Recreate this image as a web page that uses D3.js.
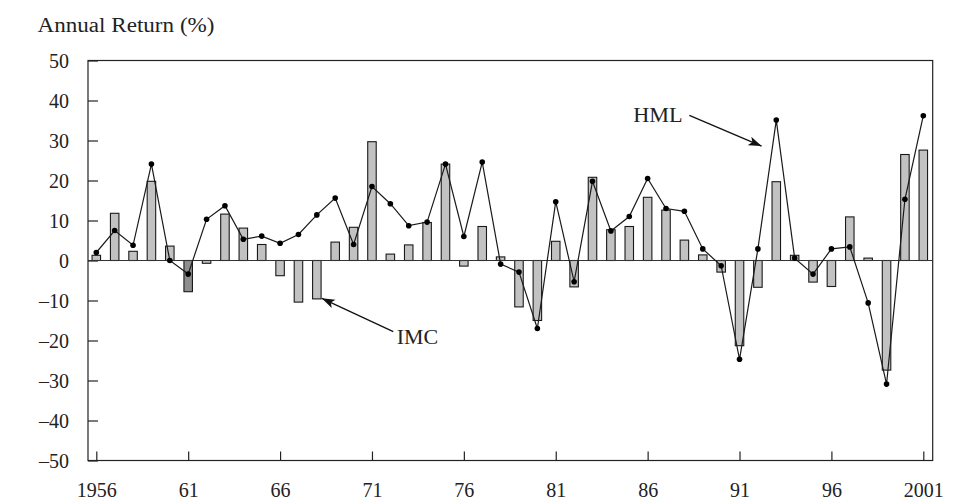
<!DOCTYPE html>
<html>
<head>
<meta charset="utf-8">
<script src="https://cdn.jsdelivr.net/npm/d3@7"></script>
<style>
	body { margin: 0; background: #fff; }
	svg text { font-family: "Liberation Serif", "DejaVu Serif", serif; fill: #222; }
</style>
</head>
<body>
<svg id="chart" width="954" height="502"></svg>
<script>
// Years on the x axis
var years = d3.range(1956, 2002);
// IMC annual return, bars (%)
var imc = [1.3, 11.8, 2.3, 19.8, 3.6, -7.8, -0.7, 11.6, 8.1, 4.0,
	-3.8, -10.4, -9.6, 4.6, 8.3, 29.7, 1.6, 3.9, 9.5, 24.1,
	-1.4, 8.5, 0.9, -11.6, -15.0, 4.8, -6.6, 20.8, 7.7, 8.5,
	15.8, 12.6, 5.1, 1.4, -2.9, -21.3, -6.7, 19.7, 1.3, -5.4,
	-6.5, 10.9, 0.6, -27.4, 26.5, 27.6];
// HML annual return, line (%)
var hml = [2.0, 7.5, 3.8, 24.1, 0.0, -3.4, 10.3, 13.7, 5.3, 6.1,
	4.3, 6.5, 11.4, 15.6, 4.0, 18.5, 14.2, 8.7, 9.6, 24.1,
	6.0, 24.6, -0.9, -2.9, -17.0, 14.7, -5.3, 19.8, 7.4, 11.0,
	20.5, 13.0, 12.3, 2.9, -1.3, -24.7, 2.9, 35.1, 0.6, -3.4,
	2.9, 3.4, -10.6, -30.9, 15.3, 36.2];
// Axis ticks
var yTicks = d3.range(-50, 51, 10);
var xTicks = d3.range(1956, 2002, 5);
var xTickLabels = ["1956", "61", "66", "71", "76", "81", "86", "91", "96", "2001"];

function draw() {
	const svg = d3.select("#chart");
	const left = 88, right = 932.7, top = 60.5, bottom = 460.5;

	const x = d3.scaleLinear().domain([1956, 2001]).range([96.3, 923.3]);
	const y = d3.scaleLinear().domain([-50, 50]).range([bottom, top]);
	const barW = 8.5;

	const rows = years.map((yr, i) => ({year: yr, imc: imc[i], hml: hml[i]}));

	// arrow head
	svg.append("defs").append("marker")
		.attr("id", "arrow")
		.attr("markerUnits", "userSpaceOnUse")
		.attr("markerWidth", 14).attr("markerHeight", 10)
		.attr("viewBox", "0 -5 14 10")
		.attr("refX", 13).attr("refY", 0)
		.attr("orient", "auto")
	  .append("path")
		.attr("d", "M0,-4.5L13,0L0,4.5L3,0Z")
		.attr("fill", "#111");

	// title (Palatino-like widths)
	svg.append("text")
		.attr("x", 37.5).attr("y", 31.5)
		.attr("font-size", 20)
		.attr("textLength", 177)
		.attr("lengthAdjust", "spacingAndGlyphs")
		.text("Annual Return (%)");

	// y axis
	const yAxis = d3.axisLeft(y)
		.tickValues(yTicks)
		.tickSizeInner(-10)
		.tickSizeOuter(0)
		.tickPadding(0)
		.tickFormat(d => d < 0 ? "\u2013" + Math.abs(d) : d);
	const gy = svg.append("g")
		.attr("transform", `translate(${left},0)`)
		.call(yAxis);
	gy.select(".domain").remove();
	gy.selectAll("line").attr("stroke", "#222").attr("stroke-width", 1.2);
	gy.selectAll("text")
		.attr("x", -19)
		.attr("dy", "0.34em")
		.attr("font-size", 20)
		.attr("font-family", null)
		.attr("fill", "#222");

	// x axis
	const xAxis = d3.axisBottom(x)
		.tickValues(xTicks)
		.tickSizeInner(-9)
		.tickSizeOuter(0)
		.tickFormat((d, i) => xTickLabels[i]);
	const gx = svg.append("g")
		.attr("transform", `translate(0,${bottom})`)
		.call(xAxis);
	gx.select(".domain").remove();
	gx.selectAll("line").attr("stroke", "#222").attr("stroke-width", 1.2);
	gx.selectAll("text")
		.attr("y", 36)
		.attr("dy", 0)
		.attr("font-size", 20)
		.attr("font-family", null)
		.attr("fill", "#222");

	// bars
	svg.append("g")
		.selectAll("rect")
		.data(rows)
		.join("rect")
		.attr("x", d => x(d.year) - barW / 2)
		.attr("y", d => y(Math.max(0, d.imc)))
		.attr("width", barW)
		.attr("height", d => Math.abs(y(d.imc) - y(0)))
		.attr("fill", d => d.year === 1961 ? "#8e8e8e" : "#c2c2c2")
		.attr("stroke", "#1a1a1a")
		.attr("stroke-width", 1.1);

	// zero line
	svg.append("line")
		.attr("x1", left).attr("x2", right)
		.attr("y1", y(0)).attr("y2", y(0))
		.attr("stroke", "#333").attr("stroke-width", 1.2);

	// HML line
	const line = d3.line().x(d => x(d.year)).y(d => y(d.hml));
	svg.append("path")
		.datum(rows)
		.attr("d", line)
		.attr("fill", "none")
		.attr("stroke", "#1a1a1a")
		.attr("stroke-width", 1.2);
	svg.append("g")
		.selectAll("circle")
		.data(rows)
		.join("circle")
		.attr("cx", d => x(d.year))
		.attr("cy", d => y(d.hml))
		.attr("r", 2.8)
		.attr("fill", "#000");

	// frame
	svg.append("rect")
		.attr("x", left).attr("y", top)
		.attr("width", right - left).attr("height", bottom - top)
		.attr("fill", "none")
		.attr("stroke", "#222")
		.attr("stroke-width", 1.2);

	// annotations
	svg.append("line")
		.attr("x1", x(1972.16)).attr("y1", y(-17.8))
		.attr("x2", x(1968.27)).attr("y2", y(-9.45))
		.attr("stroke", "#111").attr("stroke-width", 1.3)
		.attr("marker-end", "url(#arrow)");
	svg.append("text")
		.attr("x", x(1972.35)).attr("y", y(-20.9))
		.attr("font-size", 20)
		.attr("textLength", 41.5)
		.attr("lengthAdjust", "spacingAndGlyphs")
		.text("IMC");

	svg.append("line")
		.attr("x1", x(1988.27)).attr("y1", y(36.3))
		.attr("x2", x(1992.2)).attr("y2", y(28.6))
		.attr("stroke", "#111").attr("stroke-width", 1.3)
		.attr("marker-end", "url(#arrow)");
	svg.append("text")
		.attr("x", 633.3).attr("y", y(34.6))
		.attr("font-size", 20)
		.attr("textLength", 49.4)
		.attr("lengthAdjust", "spacingAndGlyphs")
		.text("HML");
}

if (document.readyState !== "loading") {
	draw();
} else {
	document.addEventListener("DOMContentLoaded", draw);
}
</script>
</body>
</html>
